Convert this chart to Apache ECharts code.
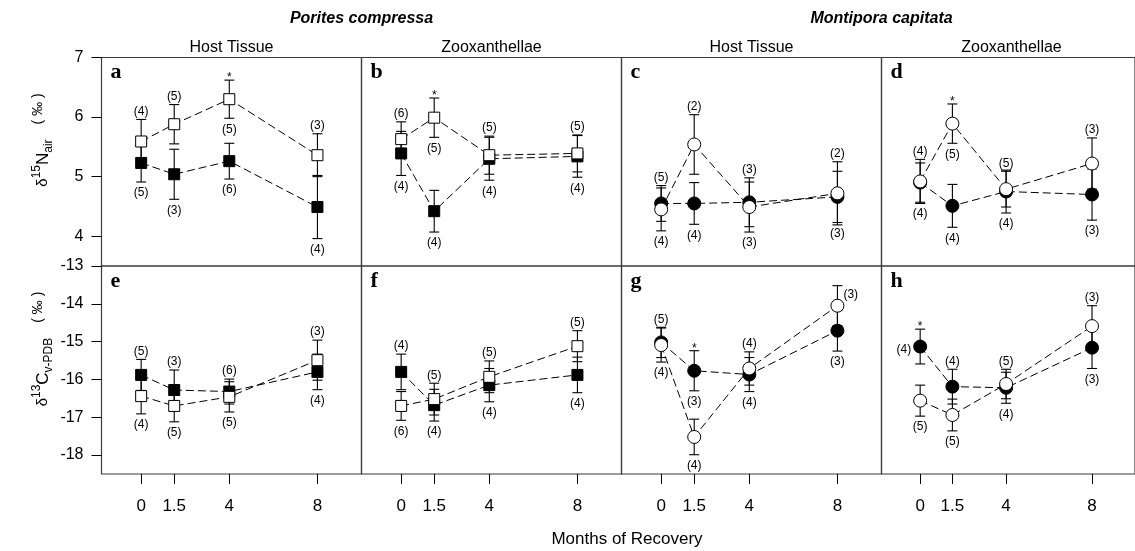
<!DOCTYPE html>
<html><head><meta charset="utf-8">
<script src="https://cdn.jsdelivr.net/npm/echarts@6/dist/echarts.min.js"></script>
<style>html,body{margin:0;padding:0;background:#fff}#c{width:1135px;height:551px}</style>
</head><body><div id="c"></div>
<script>
// ---------------- data ----------------
const months = [0, 1.5, 4, 8];
const monthLabels = ['0', '1.5', '4', '8'];
const speciesNames = ['Porites compressa', 'Montipora capitata'];
const fractionNames = ['Host Tissue', 'Zooxanthellae', 'Host Tissue', 'Zooxanthellae'];
const panelLetters = ['a', 'b', 'c', 'd', 'e', 'f', 'g', 'h'];
const topYTicks = [4, 5, 6, 7];
const bottomYTicks = [-18, -17, -16, -15, -14, -13];

// a: P. compressa host tissue, d15N
const aFilledMean = [5.23, 5.04, 5.26, 4.49];
const aFilledErr  = [0.32, 0.42, 0.30, 0.53];
const aFilledN    = [5, 3, 6, 4];
const aOpenMean   = [5.59, 5.88, 6.30, 5.36];
const aOpenErr    = [0.37, 0.33, 0.32, 0.36];
const aOpenN      = [4, 5, 5, 3];
const aSig        = [null, null, 'open', null];
// b: P. compressa zooxanthellae, d15N
const bFilledMean = [5.39, 4.42, 5.30, 5.34];
const bFilledErr  = [0.37, 0.35, 0.36, 0.35];
const bFilledN    = [4, 4, 4, 4];
const bOpenMean   = [5.63, 5.99, 5.36, 5.39];
const bOpenErr    = [0.29, 0.33, 0.32, 0.31];
const bOpenN      = [6, 5, 5, 5];
const bSig        = [null, 'open', null, null];
// c: M. capitata host tissue, d15N
const cFilledMean = [4.55, 4.55, 4.57, 4.66];
const cFilledErr  = [0.30, 0.35, 0.41, 0.43];
const cFilledN    = [5, 4, 3, 3];
const cOpenMean   = [4.45, 5.54, 4.49, 4.72];
const cOpenErr    = [0.36, 0.50, 0.42, 0.53];
const cOpenN      = [4, 2, 3, 2];
const cSig        = [null, null, null, null];
// d: M. capitata zooxanthellae, d15N
const dFilledMean = [4.90, 4.51, 4.75, 4.70];
const dFilledErr  = [0.33, 0.36, 0.36, 0.43];
const dFilledN    = [4, 4, 4, 3];
const dOpenMean   = [4.92, 5.89, 4.79, 5.22];
const dOpenErr    = [0.37, 0.33, 0.30, 0.43];
const dOpenN      = [4, 5, 5, 3];
const dSig        = [null, 'open', null, null];
// e: P. compressa host tissue, d13C
const eFilledMean = [-15.88, -16.28, -16.32, -15.80];
const eFilledErr  = [0.41, 0.53, 0.33, 0.47];
const eFilledN    = [5, 3, 6, 4];
const eOpenMean   = [-16.44, -16.70, -16.46, -15.49];
const eOpenErr    = [0.47, 0.42, 0.40, 0.53];
const eOpenN      = [4, 5, 5, 3];
const eSig        = [null, null, null, null];
// f: P. compressa zooxanthellae, d13C
const fFilledMean = [-15.80, -16.68, -16.15, -15.88];
const fFilledErr  = [0.47, 0.42, 0.44, 0.47];
const fFilledN    = [4, 4, 4, 4];
const fOpenMean   = [-16.70, -16.52, -15.93, -15.12];
const fOpenErr    = [0.38, 0.42, 0.42, 0.41];
const fOpenN      = [6, 5, 5, 5];
const fSig        = [null, null, null, null];
// g: M. capitata host tissue, d13C
const gFilledMean = [-15.02, -15.77, -15.87, -14.71];
const gFilledErr  = [0.40, 0.53, 0.45, 0.54];
const gFilledN    = [5, 3, 4, 3];
const gOpenMean   = [-15.09, -17.52, -15.71, -14.05];
const gOpenErr    = [0.45, 0.47, 0.44, 0.53];
const gOpenN      = [4, 4, 4, 3];
const gSig        = [null, 'filled', null, null];
// h: M. capitata zooxanthellae, d13C
const hFilledMean = [-15.13, -16.19, -16.22, -15.16];
const hFilledErr  = [0.46, 0.46, 0.41, 0.55];
const hFilledN    = [4, 4, 4, 3];
const hOpenMean   = [-16.56, -16.94, -16.12, -14.59];
const hOpenErr    = [0.41, 0.42, 0.39, 0.54];
const hOpenN      = [5, 5, 5, 3];
const hSig        = ['filled', null, null, null];

// ---------------- layout / style config ----------------
// where the (n) label sits relative to each point's error bar: t=above, b=below, l=left, r=right
const labelSide = {
  a: { filled: ['b','b','b','b'], open: ['t','t','b','t'] },
  b: { filled: ['b','b','b','b'], open: ['t','b','t','t'] },
  c: { filled: ['t','b','t','b'], open: ['b','t','b','t'] },
  d: { filled: ['b','b','b','b'], open: ['t','b','t','t'] },
  e: { filled: ['t','t','t','b'], open: ['b','b','b','t'] },
  f: { filled: ['t','b','b','b'], open: ['b','t','t','t'] },
  g: { filled: ['t','b','b','b'], open: ['b','b','t','r'] },
  h: { filled: ['l','t','b','b'], open: ['b','b','t','t'] }
};
const SANS = '"Liberation Sans", Arial, Helvetica, sans-serif';
const SERIF = '"Liberation Serif", "Times New Roman", serif';
const colLeft = [101.5, 361.5, 621.5, 881.5];
const colWidth = 260;
const rowTop = [57.5, 266];
const rowHeight = [208.5, 208];

const panels = [
  { fm: aFilledMean, fe: aFilledErr, fn: aFilledN, om: aOpenMean, oe: aOpenErr, on: aOpenN, sig: aSig },
  { fm: bFilledMean, fe: bFilledErr, fn: bFilledN, om: bOpenMean, oe: bOpenErr, on: bOpenN, sig: bSig },
  { fm: cFilledMean, fe: cFilledErr, fn: cFilledN, om: cOpenMean, oe: cOpenErr, on: cOpenN, sig: cSig },
  { fm: dFilledMean, fe: dFilledErr, fn: dFilledN, om: dOpenMean, oe: dOpenErr, on: dOpenN, sig: dSig },
  { fm: eFilledMean, fe: eFilledErr, fn: eFilledN, om: eOpenMean, oe: eOpenErr, on: eOpenN, sig: eSig },
  { fm: fFilledMean, fe: fFilledErr, fn: fFilledN, om: fOpenMean, oe: fOpenErr, on: fOpenN, sig: fSig },
  { fm: gFilledMean, fe: gFilledErr, fn: gFilledN, om: gOpenMean, oe: gOpenErr, on: gOpenN, sig: gSig },
  { fm: hFilledMean, fe: hFilledErr, fn: hFilledN, om: hOpenMean, oe: hOpenErr, on: hOpenN, sig: hSig }
];

const grids = [], xAxes = [], yAxes = [], series = [];

function errSeries(pi, mean, err, n, sides, sig, key) {
  return {
    type: 'custom', xAxisIndex: pi, yAxisIndex: pi, z: 2, silent: true, clip: false,
    data: months.map((m, i) => [m, mean[i], err[i]]),
    renderItem: function (params, api) {
      const i = params.dataIndex;
      const x = api.value(0), m = api.value(1), e = api.value(2);
      const pT = api.coord([x, m + e]), pB = api.coord([x, m - e]), pM = api.coord([x, m]);
      const st = { stroke: '#000', lineWidth: 1.1 };
      const ch = [
        { type: 'line', shape: { x1: pT[0], y1: pT[1], x2: pB[0], y2: pB[1] }, style: st },
        { type: 'line', shape: { x1: pT[0] - 5, y1: pT[1], x2: pT[0] + 5, y2: pT[1] }, style: st },
        { type: 'line', shape: { x1: pB[0] - 5, y1: pB[1], x2: pB[0] + 5, y2: pB[1] }, style: st }
      ];
      const side = sides[i];
      let tx, ty, ta = 'center', tv = 'middle';
      if (side === 't') { tx = pT[0]; ty = pT[1] - 2; tv = 'bottom'; }
      else if (side === 'b') { tx = pB[0]; ty = pB[1] + 5; tv = 'top'; }
      else if (side === 'l') { tx = pM[0] - 9; ty = pM[1] + 3; ta = 'right'; }
      else { tx = pM[0] + 6; ty = pM[1] - 11; ta = 'left'; }
      ch.push({ type: 'text', style: { text: '(' + n[i] + ')', x: tx, y: ty, align: ta, verticalAlign: tv,
        fontSize: 12, fontFamily: SANS, fill: '#000' } });
      if (sig[i] === key) {
        ch.push({ type: 'text', style: { text: '*', x: pT[0], y: pT[1] - 2, align: 'center', verticalAlign: 'middle',
          fontSize: 12, fontFamily: SANS, fill: '#000' } });
      }
      return { type: 'group', children: ch };
    }
  };
}

function lineSeries(pi, mean, open, shape) {
  return {
    type: 'line', xAxisIndex: pi, yAxisIndex: pi, z: open ? 4 : 3, silent: true,
    data: months.map((m, i) => [m, mean[i]]),
    symbol: shape, symbolSize: shape === 'rect' ? 11 : 13, showAllSymbol: true,
    lineStyle: { color: '#000', width: 1, type: [8, 4] },
    itemStyle: { color: open ? '#fff' : '#000', borderColor: '#000', borderWidth: 1, opacity: 1 },
    emphasis: { disabled: true }
  };
}

panels.forEach((p, pi) => {
  const row = pi < 4 ? 0 : 1, col = pi % 4;
  const letter = panelLetters[pi];
  const shape = (col < 2) ? 'rect' : 'circle';
  grids.push({ left: colLeft[col], top: rowTop[row], width: colWidth, height: rowHeight[row],
    show: true, borderColor: '#3a3a3a', borderWidth: 1.2, backgroundColor: 'transparent' });
  xAxes.push({ type: 'value', gridIndex: pi, min: -1.8, max: 10, show: row === 1, position: 'bottom',
    axisLine: { show: false, onZero: false }, splitLine: { show: false },
    axisTick: { show: true, inside: false, length: 10, customValues: months, lineStyle: { color: '#000', width: 1 } },
    axisLabel: { show: true, customValues: months, margin: 24, fontSize: 17, color: '#000', fontFamily: SANS,
      formatter: v => monthLabels[months.indexOf(v)] } });
  const ticks = row === 0 ? topYTicks : bottomYTicks;
  yAxes.push({ type: 'value', gridIndex: pi, min: row === 0 ? 3.5 : -18.5, max: row === 0 ? 7 : -13,
    show: col === 0, position: 'left', axisLine: { show: false, onZero: false }, splitLine: { show: false },
    axisTick: { show: true, inside: false, length: 10, customValues: ticks, lineStyle: { color: '#000', width: 1 } },
    axisLabel: { show: true, customValues: ticks, margin: 18, fontSize: 16, color: '#000', fontFamily: SANS } });
  series.push(errSeries(pi, p.fm, p.fe, p.fn, labelSide[letter].filled, p.sig, 'filled'));
  series.push(errSeries(pi, p.om, p.oe, p.on, labelSide[letter].open, p.sig, 'open'));
  series.push(lineSeries(pi, p.fm, false, shape));
  series.push(lineSeries(pi, p.om, true, shape));
});

const graphics = [];
speciesNames.forEach((s, i) => {
  graphics.push({ type: 'text', x: colLeft[i * 2 + 1], y: 19, style: { text: s, align: 'center', verticalAlign: 'middle',
    fontSize: 16, fontWeight: 'bold', fontStyle: 'italic', fontFamily: SANS, fill: '#000' } });
});
fractionNames.forEach((s, i) => {
  graphics.push({ type: 'text', x: colLeft[i] + colWidth / 2, y: 48, style: { text: s, align: 'center', verticalAlign: 'middle',
    fontSize: 16, fontFamily: SANS, fill: '#000' } });
});
panelLetters.forEach((l, pi) => {
  const row = pi < 4 ? 0 : 1, col = pi % 4;
  graphics.push({ type: 'text', x: colLeft[col] + 9, y: rowTop[row] + 26, style: { text: l, align: 'left', verticalAlign: 'bottom',
    fontSize: 22, fontWeight: 'bold', fontFamily: SERIF, fill: '#000' } });
});
const richY = {
  d: { fontSize: 15, fontFamily: SANS, fill: '#000' },
  sup: { fontSize: 12, fontFamily: SANS, fill: '#000', verticalAlign: 'top' },
  b: { fontSize: 17, fontFamily: SANS, fill: '#000', lineHeight: 24 },
  sub: { fontSize: 12, fontFamily: SANS, fill: '#000', verticalAlign: 'bottom' },
  sp: { width: 15, fontSize: 12 },
  p: { fontSize: 14, fontFamily: SANS, fill: '#000', verticalAlign: 'top' }
};
graphics.push({ type: 'text', x: 43, y: 140, rotation: Math.PI / 2,
  style: { text: '{d|δ}{sup|15}{b|N}{sub|air}{sp| }{p|( ‰ )}', align: 'center', verticalAlign: 'middle', rich: richY } });
graphics.push({ type: 'text', x: 43, y: 349, rotation: Math.PI / 2,
  style: { text: '{d|δ}{sup|13}{b|C}{sub|v-PDB}{sp| }{p|( ‰ )}', align: 'center', verticalAlign: 'middle', rich: richY } });
graphics.push({ type: 'text', x: 627, y: 539, style: { text: 'Months of Recovery', align: 'center', verticalAlign: 'middle',
  fontSize: 17, fontFamily: SANS, fill: '#000' } });

const chart = echarts.init(document.getElementById('c'), null, { renderer: 'canvas' });
chart.setOption({
  animation: false,
  backgroundColor: '#fff',
  grid: grids, xAxis: xAxes, yAxis: yAxes, series: series, graphic: graphics
});
</script>
</body></html>
